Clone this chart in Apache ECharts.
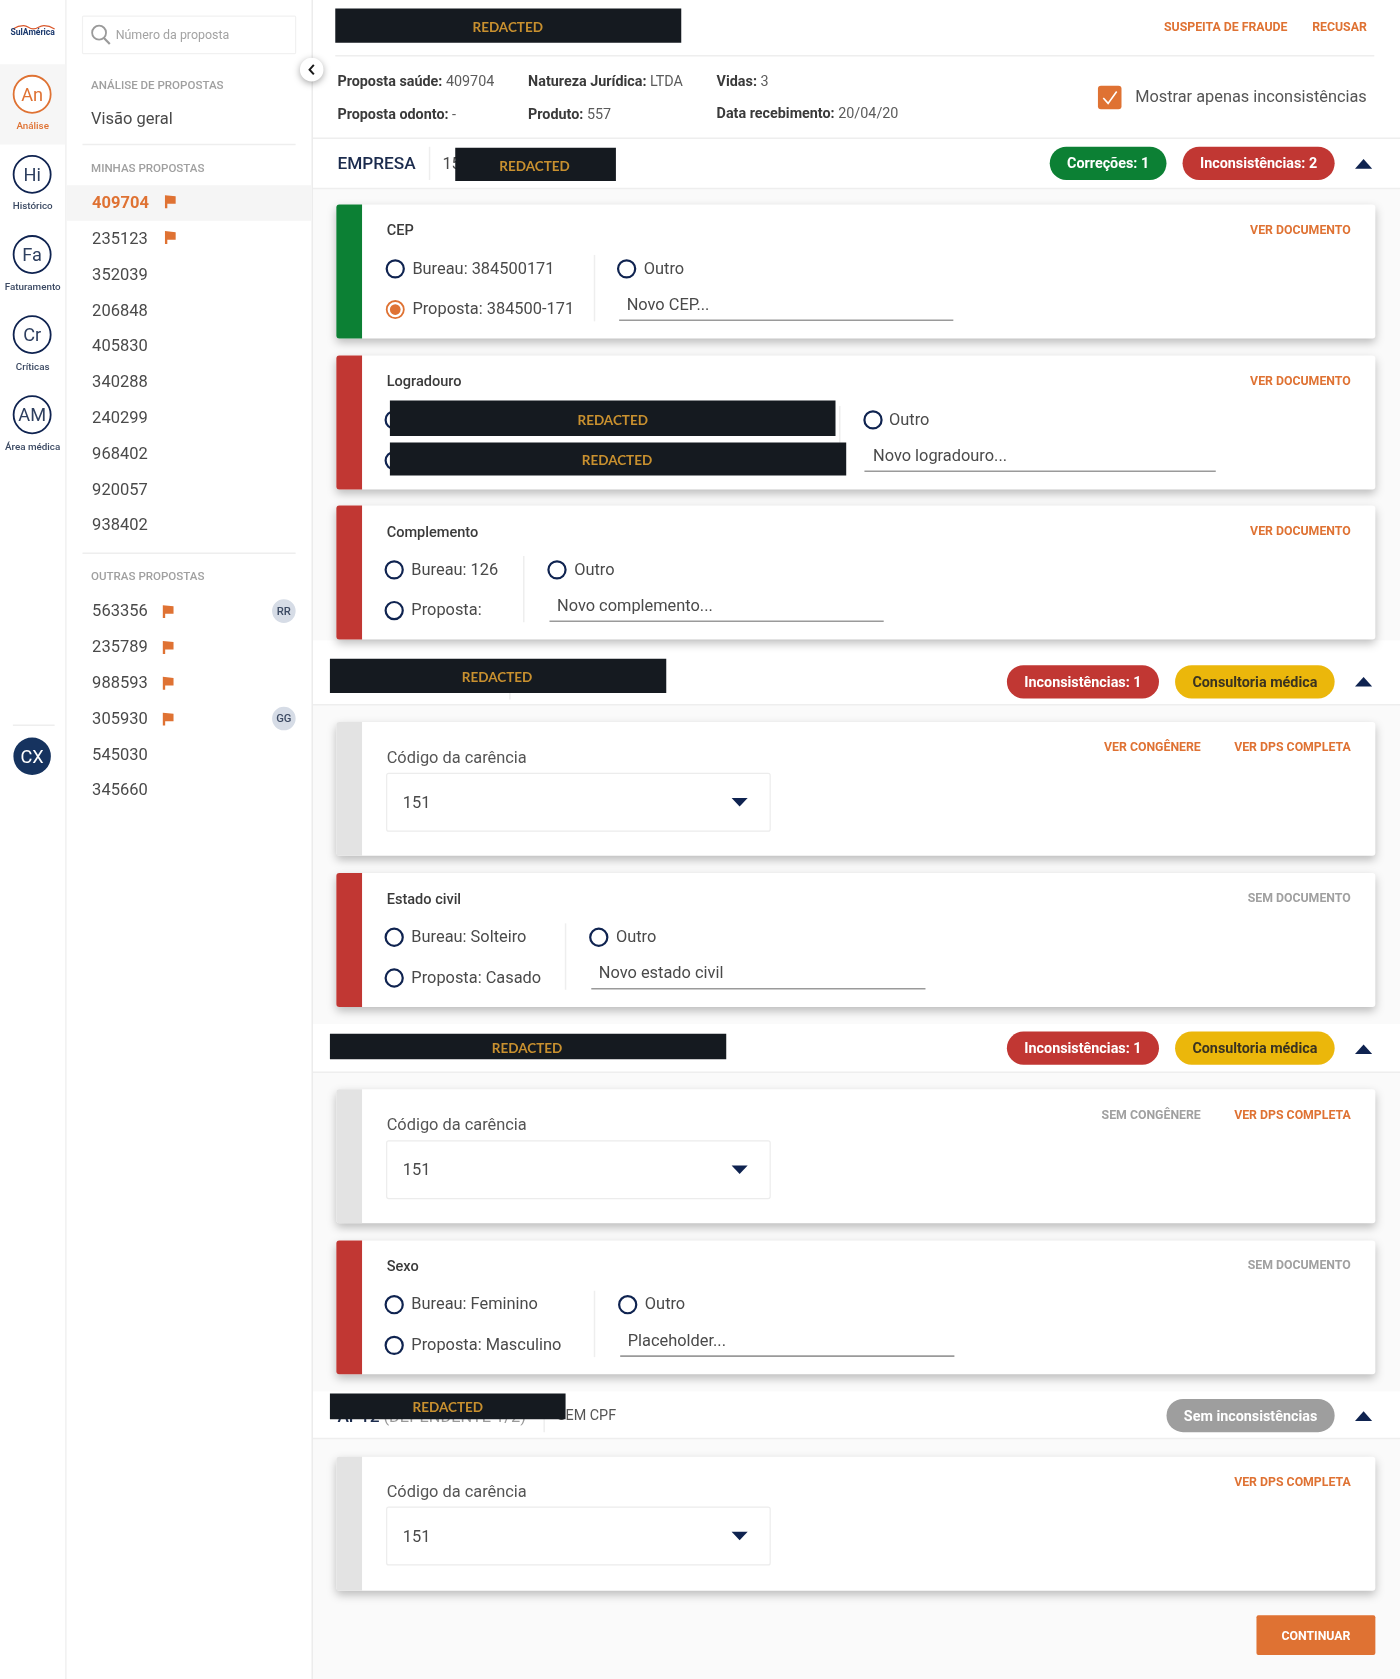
<!DOCTYPE html>
<html>
<head>
<meta charset="utf-8">
<title>Análise de propostas</title>
<script src="https://cdn.jsdelivr.net/npm/echarts@6/dist/echarts.min.js"></script>
<style>
html, body { margin: 0; padding: 0; background: #fff; }
#main { width: 1400px; height: 1679px; }
</style>
</head>
<body>
<div id="main"></div>
<script>
var navInitials = ['An', 'Hi', 'Fa', 'Cr', 'AM'];
var navLabels = ['Análise', 'Histórico', 'Faturamento', 'Críticas', 'Área médica'];
var minhasPropostas = ['409704', '235123', '352039', '206848', '405830', '340288', '240299', '968402', '920057', '938402'];
var minhasFlags = [1, 1, 0, 0, 0, 0, 0, 0, 0, 0];
var outrasPropostas = ['563356', '235789', '988593', '305930', '545030', '345660'];
var outrasFlags = [1, 1, 1, 1, 0, 0];
var outrasAvatars = ['RR', '', '', 'GG', '', ''];

var k = 1400 / 1307;
var ORANGE = '#df7233', RED = '#c13733', GREEN = '#0c8034', NAVY = '#0f2350', GREY = '#e3e3e3';
var TXT = '#4a4a4a', LINE = '#eeeeee', FONT = 'Roboto';
var els = [];

function rect(x, y, w, h, fill, r, extra) {
    var st = { fill: fill };
    if (extra) for (var p in extra) st[p] = extra[p];
    els.push({ type: 'rect', silent: true, shape: { x: x * k, y: y * k, width: w * k, height: h * k, r: r || 0 }, style: st });
}
function hline(x1, x2, y, color, w) {
    els.push({ type: 'line', silent: true, shape: { x1: x1 * k, y1: y * k, x2: x2 * k, y2: y * k }, style: { stroke: color || LINE, lineWidth: w || 1.5 } });
}
function vline(x, y1, y2, color) {
    els.push({ type: 'line', silent: true, shape: { x1: x * k, y1: y1 * k, x2: x * k, y2: y2 * k }, style: { stroke: color || LINE, lineWidth: 1.5 } });
}
function circle(x, y, r, fill, stroke, lw, extra) {
    var st = { fill: fill || 'none', stroke: stroke || 'none', lineWidth: lw || 0 };
    if (extra) for (var p in extra) st[p] = extra[p];
    els.push({ type: 'circle', silent: true, shape: { cx: x * k, cy: y * k, r: r * k }, style: st });
}
function poly(points, fill) {
    els.push({ type: 'polygon', silent: true, shape: { points: points.map(function (p) { return [p[0] * k, p[1] * k]; }) }, style: { fill: fill } });
}
function stroke(points, color, lw, smooth) {
    els.push({ type: 'polyline', silent: true, shape: { smooth: smooth || 0, points: points.map(function (p) { return [p[0] * k, p[1] * k]; }) }, style: { stroke: color, lineWidth: lw, fill: 'none' } });
}
// Roboto sits a bit high in its line box, so push it down by a tenth of its size
function text(x, y, str, size, color, weight, align, family) {
    var dy = family ? 0 : size * 0.1;
    els.push({ type: 'text', silent: true, x: x * k, y: (y + dy) * k, style: {
        text: str, fill: color || TXT, fontSize: size * k, fontWeight: weight || 400,
        fontFamily: family || FONT, align: align || 'left', verticalAlign: 'middle'
    } });
}
function labelled(x, y, label, value) {
    els.push({ type: 'text', silent: true, x: x * k, y: (y + 1.4) * k, style: {
        text: '{b|' + label + '}{n| ' + value + '}', verticalAlign: 'middle', align: 'left',
        rich: {
            b: { fontFamily: FONT, fontSize: 13.4 * k, fontWeight: 700, fill: '#3a3a3a' },
            n: { fontFamily: FONT, fontSize: 13.4 * k, fontWeight: 400, fill: '#5c5c5c' }
        }
    } });
}
function redacted(x, y, w, h, cx, cy) {
    rect(x, y, w, h, '#151a20');
    text(cx, cy, 'REDACTED', 12.6, '#c8902f', 700, 'center', 'Lato');
}
function flag(x, y) {
    poly([[x - 5, y - 6], [x + 5, y - 5], [x + 5, y + 2], [x - 2.8, y + 2], [x - 2.8, y + 6], [x - 5, y + 6]], ORANGE);
}
function radio(x, y, on) {
    if (on) {
        circle(x, y, 8, '#fff', ORANGE, 1.8);
        circle(x, y, 5, ORANGE);
    } else {
        circle(x, y, 8, '#fff', NAVY, 2.2);
    }
}
function badge(x, w, y, str, fill, color) {
    rect(x, y, w, 31, fill, 15.5 * k);
    text(x + w / 2, y + 15.5, str, 13.4, color || '#fff', 700, 'center');
}
function caret(y) {
    poly([[1265, y + 4.5], [1281, y + 4.5], [1273, y - 4.5]], NAVY);
}
function card(y, barColor) {
    rect(314, y, 970, 125, '#fff', 3, { shadowBlur: 10, shadowColor: 'rgba(0,0,0,0.26)', shadowOffsetY: 4 });
    rect(314, y, 24, 125, barColor, [3, 0, 0, 3]);
}
function link(right, y, str, color) {
    text(right, y, str, 11.5, color || ORANGE, 700, 'right');
}
function choices(y, x, bureau, proposta, selected, divX, outroX, placeholder, lineEnd) {
    radio(x, y + 60, false);
    radio(x, y + 98, selected);
    text(x + 16, y + 59, bureau, 15.3);
    text(x + 16, y + 97, proposta, 15.3);
    vline(divX, y + 47, y + 109);
    radio(outroX, y + 60, false);
    text(outroX + 16, y + 59, 'Outro', 15.3);
    text(outroX, y + 93, placeholder, 15.3);
    hline(outroX - 7, lineEnd, y + 108, '#9a9a9a', 1.6);
}
function selectBox(y) {
    text(361, y + 33, 'Código da carência', 15.3, '#555');
    rect(361, y + 48, 358, 54, '#fff', 2, { stroke: '#ececec', lineWidth: 1.2 });
    text(376, y + 75, '151', 15.3);
    poly([[683, y + 71], [698, y + 71], [690.5, y + 79]], NAVY);
}

// page areas
rect(292, 176, 1015, 1392, '#fafafa');
rect(292, 598, 1015, 60, '#fff');
rect(292, 956, 1015, 45, '#fff');
rect(292, 1299, 1015, 44, '#fff');
vline(61.5, 0, 1568, '#f0f0f0');
vline(291.5, 0, 1568, '#ececec');

// nav column
stroke([[12, 27], [22, 24], [31, 27], [41, 24], [51, 27]], '#d9572b', 1.2, 0.5);
text(30.5, 29.5, 'SulAmérica', 8, '#1c3a6e', 700, 'center');
rect(0, 60, 61, 75, '#f6f6f6');
navInitials.forEach(function (s, i) {
    var y = 88 + i * 74.8;
    var c = i === 0 ? ORANGE : NAVY;
    circle(30, y, 17.3, '#fff', c, 1.8);
    text(30, y, s, 17, i === 0 ? ORANGE : '#2f4060', 400, 'center');
    text(30.5, y + 29.5, navLabels[i], 9.2, i === 0 ? ORANGE : '#3c4a63', 500, 'center');
});
hline(12, 51, 677, '#eeeeee');
circle(30, 706, 17.5, '#16335f');
text(30, 706, 'CX', 17, '#fff', 400, 'center');

// proposals column
rect(77, 15, 199, 35, '#fff', 1, { stroke: '#f1f1f1', lineWidth: 1.2 });
circle(92.5, 30.5, 6.5, 'none', '#9a9a9a', 1.8);
stroke([[97, 35.5], [102.5, 41]], '#9a9a9a', 2.2);
text(108, 32, 'Número da proposta', 11.6, '#a3a3a3');
text(85, 79, 'ANÁLISE DE PROPOSTAS', 10.8, '#a0a0a0', 500);
text(85, 110, 'Visão geral', 15.4, TXT);
hline(77, 276, 135);
text(85, 157, 'MINHAS PROPOSTAS', 10.8, '#a0a0a0', 500);
rect(62, 173, 229, 33, '#f5f5f5');
minhasPropostas.forEach(function (s, i) {
    var y = 188.8 + i * 33.45;
    text(86, y, s, 15.4, i === 0 ? ORANGE : TXT, i === 0 ? 700 : 400);
    if (minhasFlags[i]) flag(159, y - 0.5);
});
hline(77, 276, 516.5);
text(85, 538, 'OUTRAS PROPOSTAS', 10.8, '#a0a0a0', 500);
outrasPropostas.forEach(function (s, i) {
    var y = 570 + i * 33.45;
    text(86, y, s, 15.4, TXT);
    if (outrasFlags[i]) flag(157, y + 1);
    if (outrasAvatars[i]) {
        circle(265, y + 0.5, 11, '#d6dce6');
        text(265, y, outrasAvatars[i], 10.5, '#3c4a63', 500, 'center');
    }
});
circle(291, 65, 11, '#fff', 'none', 0, { shadowBlur: 7, shadowColor: 'rgba(0,0,0,0.35)', shadowOffsetY: 2 });
stroke([[293, 60.5], [289, 65], [293, 69.5]], '#1a1a1a', 2);

// top bar
redacted(313, 8, 323, 32, 474, 25.5);
link(1202, 25, 'SUSPEITA DE FRAUDE');
link(1276, 25, 'RECUSAR');
hline(313, 1283, 52);
labelled(315, 75.5, 'Proposta saúde:', '409704');
labelled(493, 75.5, 'Natureza Jurídica:', 'LTDA');
labelled(669, 75.5, 'Vidas:', '3');
labelled(315, 106, 'Proposta odonto:', '-');
labelled(493, 106, 'Produto:', '557');
labelled(669, 105.5, 'Data recebimento:', '20/04/20');
rect(1025, 80, 22, 22, ORANGE, 3);
stroke([[1030, 91.5], [1034.5, 96.5], [1042.5, 85.5]], '#fff', 1.6);
text(1276, 90, 'Mostrar apenas inconsistências', 15.25, '#555', 400, 'right');
hline(292, 1307, 129);

// empresa header
text(315, 152, 'EMPRESA', 16.1, '#1b2b4d', 500);
vline(401, 137, 168);
text(413, 152, '15', 15.3);
redacted(425, 138, 150, 31, 499, 155.5);
badge(980, 109, 137, 'Correções: 1', GREEN);
badge(1104, 142, 137, 'Inconsistências: 2', RED);
caret(153);
hline(292, 1307, 176);

// empresa cards
card(191, GREEN);
text(361, 215, 'CEP', 13.6, '#3a3a3a', 500);
link(1261, 214, 'VER DOCUMENTO');
choices(191, 369, 'Bureau: 384500171', 'Proposta: 384500-171', true, 555, 585, 'Novo CEP...', 890);

card(332, RED);
text(361, 356, 'Logradouro', 13.6, '#3a3a3a', 500);
link(1261, 355, 'VER DOCUMENTO');
radio(368, 392, false);
radio(368, 430, false);
vline(784, 379, 441);
redacted(364, 374, 416, 33, 572, 392.5);
redacted(364, 413, 426, 31, 576, 430.5);
radio(815, 392, false);
text(830, 391, 'Outro', 15.3);
text(815, 425, 'Novo logradouro...', 15.3);
hline(807, 1135, 440, '#9a9a9a', 1.6);

card(472, RED);
text(361, 496.5, 'Complemento', 13.6, '#3a3a3a', 500);
link(1261, 495.5, 'VER DOCUMENTO');
choices(472, 368, 'Bureau: 126', 'Proposta:', false, 489, 520, 'Novo complemento...', 825);

// second person
hline(292, 1307, 658);
vline(476, 647, 653);
redacted(308, 615, 314, 32, 464, 632.5);
badge(940, 142, 621, 'Inconsistências: 1', RED);
badge(1097, 149, 621, 'Consultoria médica', '#ebb70b', '#3a3320');
caret(636.5);
card(674, GREY);
selectBox(674);
link(1121, 697.5, 'VER CONGÊNERE');
link(1261, 697.5, 'VER DPS COMPLETA');
card(815, RED);
text(361, 839.5, 'Estado civil', 13.6, '#3a3a3a', 500);
link(1261, 838.5, 'SEM DOCUMENTO', '#a0a0a0');
choices(815, 368, 'Bureau: Solteiro', 'Proposta: Casado', false, 528, 559, 'Novo estado civil', 864);

// third person
hline(292, 1307, 1001);
redacted(308, 965, 370, 24, 492, 979);
badge(940, 142, 963, 'Inconsistências: 1', RED);
badge(1097, 149, 963, 'Consultoria médica', '#ebb70b', '#3a3320');
caret(979.5);
card(1017, GREY);
selectBox(1017);
link(1121, 1040.5, 'SEM CONGÊNERE', '#a0a0a0');
link(1261, 1040.5, 'VER DPS COMPLETA');
card(1158, RED);
text(361, 1182, 'Sexo', 13.6, '#3a3a3a', 500);
link(1261, 1181, 'SEM DOCUMENTO', '#a0a0a0');
choices(1158, 368, 'Bureau: Feminino', 'Proposta: Masculino', false, 555, 586, 'Placeholder...', 891);

// fourth person
hline(292, 1307, 1343);
text(315, 1322, 'AP12', 16.1, '#1b2b4d', 500);
text(358, 1322, '(DEPENDENTE 1/2)', 15.3, '#9a9a9a');
vline(508, 1310, 1337);
text(520, 1321, 'SEM CPF', 13.4, '#555');
redacted(308, 1301, 220, 24, 418, 1314.5);
badge(1089, 157, 1306, 'Sem inconsistências', '#9e9e9e');
caret(1322);
card(1360, GREY);
selectBox(1359);
link(1261, 1383.5, 'VER DPS COMPLETA');
rect(1173, 1508, 111, 37, ORANGE, 2);
text(1228.5, 1527, 'CONTINUAR', 11.5, '#fff', 700, 'center');

var myChart = echarts.init(document.getElementById('main'));
myChart.setOption({
    backgroundColor: '#ffffff',
    animation: false,
    graphic: { elements: els }
});
</script>
</body>
</html>
